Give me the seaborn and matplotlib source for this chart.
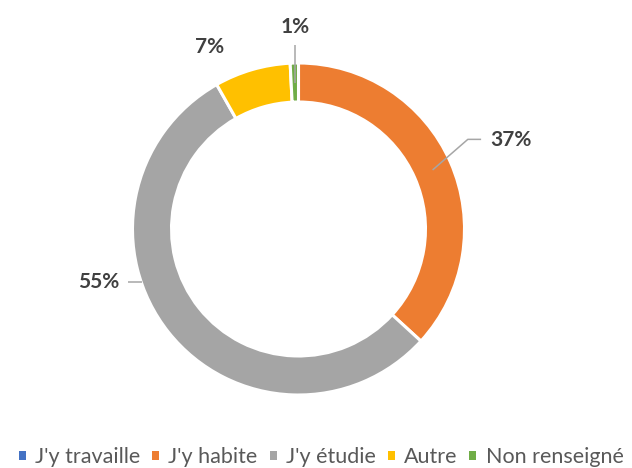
import numpy as np
import matplotlib
matplotlib.use("Agg")
import matplotlib.pyplot as plt
from matplotlib.patches import Patch
import seaborn as sns

# ---- data ----
categories = ["J'y travaille", "J'y habite", "J'y étudie", "Autre", "Non renseigné"]
values = [0.0, 36.8, 55.0, 7.4, 0.8]
label_texts = ["", "37%", "55%", "7%", "1%"]

# ---- style ----
sns.set_theme(style="white")
plt.rcParams['font.family'] = ['Lato', 'DejaVu Sans']
colors = sns.color_palette(["#4472C4", "#ED7D31", "#A5A5A5", "#FFC000", "#70AD47"])

W, H = 632, 468
fig = plt.figure(figsize=(W / 100, H / 100), dpi=100)
ax = fig.add_axes([0, 0, 1, 1])

cx, cy, R = 298.5, 229.0, 166.0  # pixel geometry of the ring
ring_w = 0.235

wedges, _ = ax.pie(values, colors=colors, startangle=90, counterclock=False,
                   radius=1.0,
                   wedgeprops=dict(width=ring_w, edgecolor="white", linewidth=2.2))
ax.set_xlim(-cx / R, (W - cx) / R)
ax.set_ylim(-(H - cy) / R, cy / R)
ax.set_aspect("equal")
ax.axis("off")

lab_color = "#404040"
line_color = "#A6A6A6"
fs = 15
mid_r = 1 - ring_w / 2

def mid_point(w, r):
    a = np.deg2rad((w.theta1 + w.theta2) / 2)
    return r * np.cos(a), r * np.sin(a)

# J'y habite (37%)
sx, sy = mid_point(wedges[1], mid_r)
ax.plot([sx, 1.02, 1.10], [sy, 0.54, 0.54], color=line_color, lw=1.1, solid_capstyle="butt")
ax.text(1.155, 0.535, label_texts[1], ha="left", va="center", fontsize=fs,
        fontweight="bold", color=lab_color)

# J'y étudie (55%)
ax.plot([-1.03, -0.944], [-0.317, -0.317], color=line_color, lw=1.1, solid_capstyle="butt")
ax.text(-1.08, -0.322, label_texts[2], ha="right", va="center", fontsize=fs,
        fontweight="bold", color=lab_color)

# Autre (7%)
ax.text(-0.533, 1.096, label_texts[3], ha="center", va="center", fontsize=fs,
        fontweight="bold", color=lab_color)

# Non renseigné (1%)
gx, gy = mid_point(wedges[4], mid_r)
ax.plot([gx, gx], [gy, 1.108], color=line_color, lw=1.1, solid_capstyle="butt")
ax.text(gx, 1.214, label_texts[4], ha="center", va="center", fontsize=fs,
        fontweight="bold", color=lab_color)

handles = [Patch(facecolor=c, edgecolor="none") for c in colors]
fig.legend(handles, categories, loc="center", bbox_to_anchor=(0.508, 0.023),
           ncol=5, frameon=False, fontsize=15.5, handlelength=0.33, handleheight=0.33,
           handletextpad=0.42, columnspacing=0.56, labelcolor="#595959",
           borderpad=0, borderaxespad=0)

fig.savefig("out.png", dpi=100)
